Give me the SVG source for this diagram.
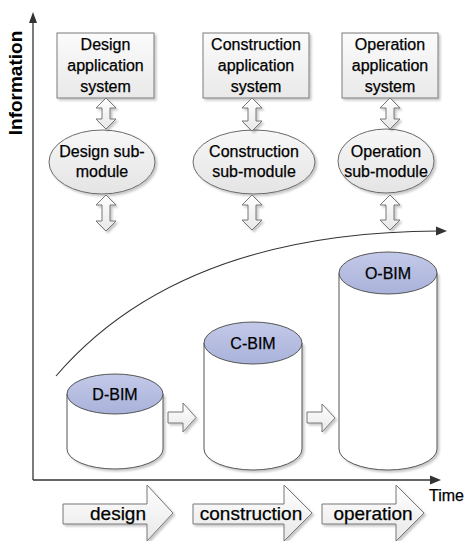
<svg xmlns="http://www.w3.org/2000/svg" width="465" height="541" viewBox="0 0 465 541">
<defs>
<linearGradient id="gBox" x1="0" y1="0" x2="0" y2="1"><stop offset="0" stop-color="#fbfbfb"/><stop offset="1" stop-color="#e9e9e9"/></linearGradient>
<linearGradient id="gEll" x1="0" y1="0" x2="0" y2="1"><stop offset="0" stop-color="#f7f7f7"/><stop offset="1" stop-color="#e4e4e4"/></linearGradient>
<linearGradient id="gTop" x1="0" y1="0" x2="0" y2="1"><stop offset="0" stop-color="#c3c9e8"/><stop offset="1" stop-color="#a9b2da"/></linearGradient>
<linearGradient id="gArr" x1="0" y1="0" x2="0" y2="1"><stop offset="0" stop-color="#ffffff"/><stop offset="1" stop-color="#e8e8e8"/></linearGradient>
<filter id="sh" x="-10%" y="-10%" width="130%" height="130%"><feDropShadow dx="2" dy="2" stdDeviation="1" flood-color="#000" flood-opacity="0.22"/></filter>
</defs>
<style>
text{font-family:"Liberation Sans",Arial,sans-serif;fill:#000;stroke:#000;stroke-width:0.25}
.t{font-size:16px;text-anchor:middle}
.big{font-size:19px;text-anchor:middle}
.box{fill:url(#gBox);stroke:#7a7a7a;stroke-width:1;filter:url(#sh)}
.ell{fill:url(#gEll);stroke:#6a6a6a;stroke-width:1;filter:url(#sh)}
.harr{fill:url(#gArr);stroke:#777;stroke-width:1;filter:url(#sh)}
.body{fill:#fff;stroke:#555;stroke-width:1;filter:url(#sh)}
.top{fill:url(#gTop);stroke:#555;stroke-width:1}
.ax{stroke:#333;stroke-width:1.3;fill:none}
</style>
<rect width="465" height="541" fill="#fff"/>

<g id="axes">
<line class="ax" x1="33" y1="480" x2="33" y2="20"/>
<polygon points="33,12 29,23 37,23" fill="#333"/>
<line class="ax" x1="33" y1="480" x2="432" y2="480"/>
<polygon points="441,480 430,475.5 430,484.5" fill="#333"/>
<text x="15" y="83" transform="rotate(-90 15 83)" style="font-size:19px;font-weight:bold;stroke-width:0;text-anchor:middle;dominant-baseline:central">Information</text>
<text x="429" y="501" style="font-size:16px">Time</text>
</g>

<g id="design-app">
<rect class="box" x="57" y="33" width="97" height="65"/>
<text class="t" x="105.5" y="50">Design</text>
<text class="t" x="105.5" y="71">application</text>
<text class="t" x="105.5" y="92">system</text>
</g>
<g id="construction-app">
<rect class="box" x="203" y="33" width="106" height="65"/>
<text class="t" x="256" y="50">Construction</text>
<text class="t" x="256" y="71">application</text>
<text class="t" x="256" y="92">system</text>
</g>
<g id="operation-app">
<rect class="box" x="342" y="33" width="96" height="65"/>
<text class="t" x="390" y="50">Operation</text>
<text class="t" x="390" y="71">application</text>
<text class="t" x="390" y="92">system</text>
</g>

<g id="design-sub">
<ellipse class="ell" cx="102" cy="162" rx="53" ry="32"/>
<text class="t" x="102" y="157">Design sub-</text>
<text class="t" x="102" y="177">module</text>
</g>
<g id="construction-sub">
<ellipse class="ell" cx="254" cy="162" rx="61" ry="32"/>
<text class="t" x="254" y="157">Construction</text>
<text class="t" x="254" y="177">sub-module</text>
</g>
<g id="operation-sub">
<ellipse class="ell" cx="386" cy="161" rx="48" ry="32"/>
<text class="t" x="386" y="157">Operation</text>
<text class="t" x="386" y="177">sub-module</text>
</g>

<g id="connectors">
<path class="harr" d="M106,98 L116,108 L110,108 L110,119 L116,119 L106,129 L96,119 L102,119 L102,108 L96,108 Z"/>
<path class="harr" d="M106,195 L116,205 L110,205 L110,221 L116,221 L106,231 L96,221 L102,221 L102,205 L96,205 Z"/>
<path class="harr" d="M252,98 L262,108 L256,108 L256,121 L262,121 L252,131 L242,121 L248,121 L248,108 L242,108 Z"/>
<path class="harr" d="M252,195 L262,205 L256,205 L256,220 L262,220 L252,230 L242,220 L248,220 L248,205 L242,205 Z"/>
<path class="harr" d="M390,98 L400,108 L394,108 L394,119 L400,119 L390,129 L380,119 L386,119 L386,108 L380,108 Z"/>
<path class="harr" d="M390,195 L400,205 L394,205 L394,220 L400,220 L390,230 L380,220 L386,220 L386,205 L380,205 Z"/>
<path d="M56,376 C130,290 250,232 438,231" fill="none" stroke="#333" stroke-width="1.1"/>
<polygon points="447,231 436,226.5 436,235.5" fill="#333"/>
<path class="harr" d="M168,412 L183,412 L183,403 L196,417.5 L183,432 L183,423 L168,423 Z"/>
<path class="harr" d="M307,412 L322,412 L322,404 L335,418 L322,432 L322,423 L307,423 Z"/>
</g>

<g id="d-bim">
<path class="body" d="M67,394 L67,449 A48,20 0 0 0 163,449 L163,394 Z"/>
<ellipse class="top" cx="115" cy="394" rx="48" ry="20"/>
<text x="115" y="400" style="font-size:16px;text-anchor:middle">D-BIM</text>
</g>
<g id="c-bim">
<path class="body" d="M204,343 L204,449 A49,21 0 0 0 302,449 L302,343 Z"/>
<ellipse class="top" cx="253" cy="343" rx="49" ry="21"/>
<text x="253" y="349" style="font-size:16px;text-anchor:middle">C-BIM</text>
</g>
<g id="o-bim">
<path class="body" d="M339,273 L339,449 A49,21 0 0 0 437,449 L437,273 Z"/>
<ellipse class="top" cx="388" cy="273" rx="49" ry="21"/>
<text x="388" y="279" style="font-size:16px;text-anchor:middle">O-BIM</text>
</g>

<g id="phase-design">
<path class="harr" d="M63,504 L147,504 L147,485 L173,513 L147,541 L147,524 L63,524 Z"/>
<text class="big" x="118" y="520">design</text>
</g>
<g id="phase-construction">
<path class="harr" d="M193,504 L284,504 L284,485 L312,513 L284,541 L284,524 L193,524 Z"/>
<text class="big" x="251" y="520">construction</text>
</g>
<g id="phase-operation">
<path class="harr" d="M322,504 L396,504 L396,485 L424,513 L396,541 L396,524 L322,524 Z"/>
<text class="big" x="373" y="520">operation</text>
</g>
</svg>
